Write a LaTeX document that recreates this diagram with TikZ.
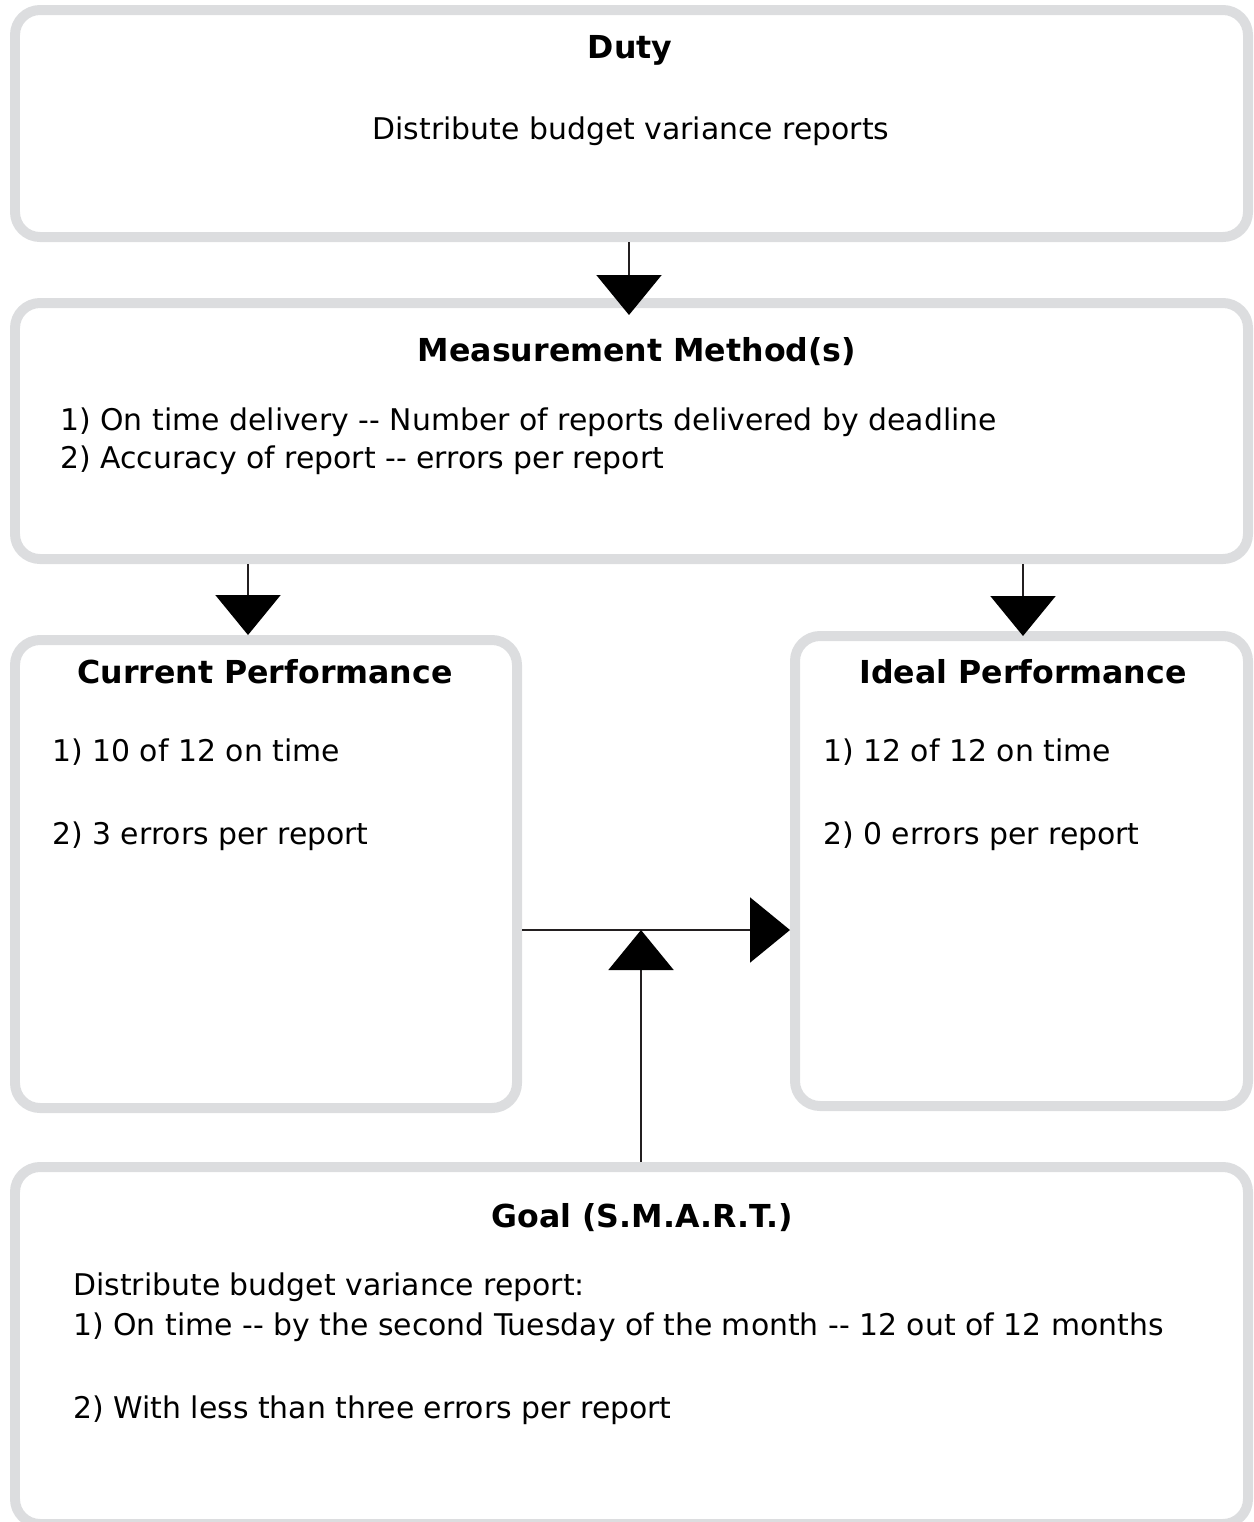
\documentclass[tikz,border=0pt]{standalone}
\usepackage{fontspec}
\setmainfont{DejaVu Sans}
\usetikzlibrary{arrows.meta,fit}

\definecolor{boxgrey}{HTML}{DCDDDF}
\definecolor{inkline}{HTML}{231F20}

\begin{document}
\begin{tikzpicture}[x=0.02cm,y=-0.02cm,
    box/.style={draw=boxgrey, line width=0.2cm, rounded corners=0.5cm, inner sep=0pt},
    head/.style={font=\bfseries\fontsize{18}{22}\selectfont, anchor=base, inner sep=0pt},
    item/.style={font=\fontsize{17}{20}\selectfont, anchor=base west, inner sep=0pt},
    flow/.style={draw=inkline, line width=0.04cm,
      -{Triangle[length=0.8cm,width=1.3cm,color=black]}}]
  \useasboundingbox (0,0) rectangle (1254,1522);

  % Define the boxes
  \node[box, fit={(15,10) (1248,237)}] (duty) {};
  \node[box, fit={(15,303) (1248,559)}] (meas) {};
  \node[box, fit={(15,640) (517,1108)}] (cur) {};
  \node[box, fit={(795,636) (1248,1106)}] (ideal) {};
  \node[box, fit={(15,1167) (1248,1524)}] (goal) {};

  % Duty
  \node[head] (dutyhead) at (630,58) {Duty};
  \node[item, anchor=base] (dutytext) at (631,139) {Distribute budget variance reports};

  % Measurement methods
  \node[head] (meashead) at (637,361) {Measurement Method(s)};
  \node[item] (meas1) at (60,430) {1) On time delivery -{}- Number of reports delivered by deadline};
  \node[item] (meas2) at (60,468) {2) Accuracy of report -{}- errors per report};

  % Current and ideal performance
  \node[head] (curhead) at (265,683) {Current Performance};
  \node[item] (cur1) at (52,761) {1) 10 of 12 on time};
  \node[item] (cur2) at (52,844) {2) 3 errors per report};
  \node[head] (idealhead) at (1023,683) {Ideal Performance};
  \node[item] (ideal1) at (823,761) {1) 12 of 12 on time};
  \node[item] (ideal2) at (823,844) {2) 0 errors per report};

  % Goal
  \node[head] (goalhead) at (642,1227) {Goal (S.M.A.R.T.)};
  \node[item] (goal0) at (73,1295) {Distribute budget variance report:};
  \node[item] (goal1) at (73,1335) {1) On time -{}- by the second Tuesday of the month -{}- 12 out of 12 months};
  \node[item] (goal2) at (73,1418) {2) With less than three errors per report};

  % Arrows between the boxes
  \coordinate (top) at (629,0);
  \coordinate (lft) at (248,0);
  \coordinate (rgt) at (1023,0);
  \coordinate (gap) at (641,930);
  \draw[flow, shorten >=-0.34cm] (duty.south -| top) -- (meas.north -| top);
  \draw[flow] (meas.south -| lft) -- (cur.north -| lft);
  \draw[flow, shorten >=-0.1cm] (meas.south -| rgt) -- (ideal.north -| rgt);
  \draw[flow] (cur.east |- gap) -- (ideal.west |- gap);
  \draw[flow] (goal.north -| gap) -- (gap);
\end{tikzpicture}
\end{document}
